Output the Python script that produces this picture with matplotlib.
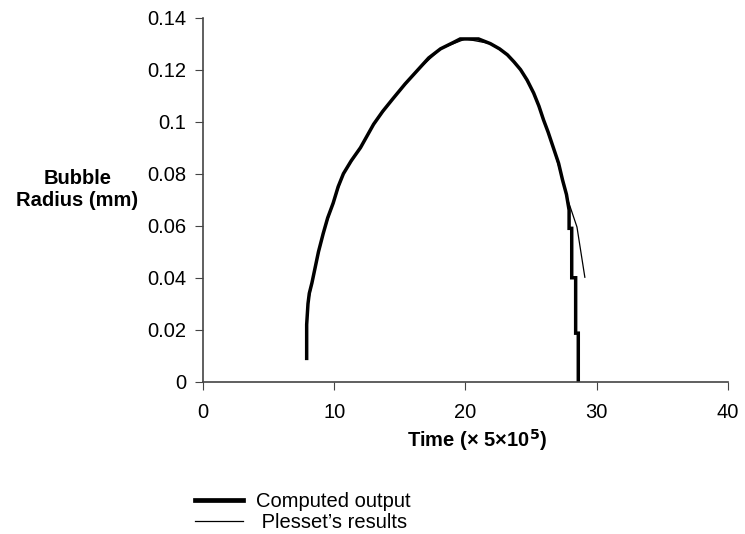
import numpy as np
import matplotlib.pyplot as plt
from matplotlib.lines import Line2D

plt.rcParams['font.family'] = ['Liberation Sans', 'DejaVu Sans']

# computed output (vertical drop at the end)
comp_t = [7.9, 7.9, 8.0, 8.1, 8.3, 8.55, 8.8, 9.16, 9.5, 9.92, 10.3, 10.7, 11.3,
          12.0, 12.5, 13.0, 13.7, 14.5, 15.4, 16.3, 17.2, 18.1, 19.1, 19.6, 21.0,
          21.9, 22.6, 23.2, 23.7, 24.2, 24.7, 25.2, 25.6, 25.95, 26.3, 26.7, 27.1,
          27.4, 27.7, 27.9, 27.9, 28.1, 28.1, 28.4, 28.4, 28.6, 28.6]
comp_r = [0.009, 0.022, 0.03, 0.034, 0.038, 0.044, 0.050, 0.057, 0.063, 0.0687,
          0.075, 0.080, 0.085, 0.090, 0.0945, 0.099, 0.104, 0.109, 0.1145, 0.1195,
          0.1245, 0.128, 0.1305, 0.1318, 0.1318, 0.130, 0.128, 0.1257, 0.123,
          0.120, 0.116, 0.111, 0.106, 0.1007, 0.096, 0.090, 0.084, 0.0776, 0.072,
          0.066, 0.059, 0.059, 0.040, 0.040, 0.0187, 0.0187, 0.0]

# Plesset's results
ples_t = [8.0, 8.55, 9.16, 9.92, 10.7, 12.0, 13.0, 14.5, 16.3, 18.1, 20.0, 21.9,
          23.2, 24.2, 25.2, 25.95, 26.7, 27.4, 27.8, 28.5, 29.1]
ples_r = [0.03, 0.044, 0.057, 0.0687, 0.080, 0.090, 0.099, 0.109, 0.1195, 0.128,
          0.1318, 0.130, 0.1257, 0.12, 0.111, 0.1007, 0.090, 0.0776, 0.070, 0.0595,
          0.0402]

xticks = [0, 10, 20, 30, 40]
yticks = [0, 0.02, 0.04, 0.06, 0.08, 0.1, 0.12, 0.14]
ylabels = ['0', '0.02', '0.04', '0.06', '0.08', '0.1', '0.12', '0.14']

fig = plt.figure(figsize=(7.45, 5.34), dpi=100)
ax = fig.add_axes([0.2725, 0.285, 0.7045, 0.682])

ax.plot(comp_t, comp_r, color='black', lw=2.5, solid_joinstyle='miter')
ax.plot(ples_t, ples_r, color='black', lw=0.9)

ax.set_xlim(0, 40)
ax.set_ylim(0, 0.14)
ax.set_xticks(xticks)
ax.set_yticks(yticks)
ax.set_yticklabels(ylabels)
ax.tick_params(labelsize=14.5, direction='out', length=6, color='#444444')
ax.tick_params(axis='x', pad=9)
ax.tick_params(axis='y', pad=6)
for s in ['top', 'right']:
    ax.spines[s].set_visible(False)
for s in ['left', 'bottom']:
    ax.spines[s].set_color('#444444')
    ax.spines[s].set_linewidth(1.2)

fig.text(0.104, 0.645, 'Bubble\nRadius (mm)', ha='center', va='center',
         fontsize=14.5, fontweight='bold', linespacing=1.2)
fig.text(0.64, 0.176, 'Time (\u00d7 5\u00d710$^{\\mathbf{5}}$)', ha='center', va='center',
         fontsize=14.5, fontweight='bold')

handles = [Line2D([], [], color='black', lw=3.4),
           Line2D([], [], color='black', lw=0.9)]
fig.legend(handles, ['Computed output', ' Plesset\u2019s results'], loc='lower left',
           bbox_to_anchor=(0.238, -0.03), frameon=False, fontsize=14.5,
           handlelength=2.34, handletextpad=0.65, labelspacing=0.1)

fig.savefig('out.png', dpi=100)
